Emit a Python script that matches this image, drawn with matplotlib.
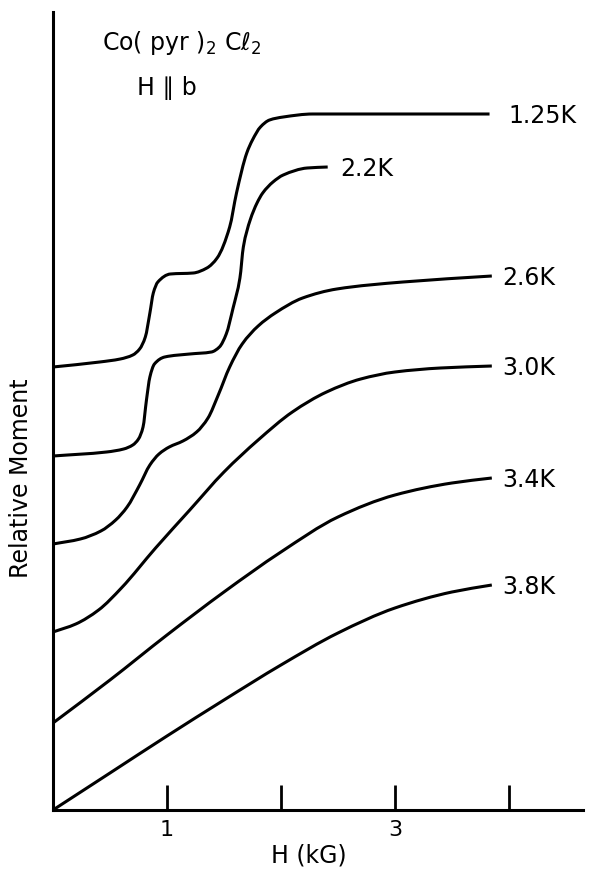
import numpy as np
import matplotlib
matplotlib.use("Agg")
from matplotlib import pyplot as plt
from matplotlib.path import Path
from matplotlib.patches import PathPatch

# field H in kG, relative moment in arbitrary (offset) units
temps = ["1.25K", "2.2K", "2.6K", "3.0K", "3.4K", "3.8K"]

h_125 = [0, 0.41, 0.59, 0.70, 0.76, 0.81, 0.85, 0.88, 0.92, 1.03, 1.23, 1.35, 1.44, 1.55, 1.61, 1.70,
         1.75, 1.82, 1.90, 2.02, 2.28, 3.83]
m_125 = [4.43, 4.48, 4.51, 4.55, 4.61, 4.73, 4.97, 5.17, 5.28, 5.36, 5.37, 5.42, 5.52, 5.83, 6.17, 6.57,
         6.70, 6.83, 6.90, 6.93, 6.96, 6.96]

h_22 = [0, 0.47, 0.62, 0.70, 0.75, 0.79, 0.82, 0.85, 0.89, 0.98, 1.20, 1.39, 1.46, 1.52, 1.58, 1.64,
        1.67, 1.73, 1.79, 1.84, 1.93, 2.02, 2.23, 2.41]
m_22 = [3.54, 3.58, 3.61, 3.65, 3.71, 3.83, 4.10, 4.33, 4.46, 4.53, 4.56, 4.58, 4.63, 4.76, 5.02, 5.32,
        5.63, 5.90, 6.07, 6.17, 6.28, 6.35, 6.42, 6.43]

h_26 = [0, 0.24, 0.42, 0.55, 0.65, 0.76, 0.85, 0.93, 1.02, 1.14, 1.26, 1.36, 1.45, 1.55, 1.66, 1.80,
        1.95, 2.19, 2.49, 3.07, 3.85]
m_26 = [2.66, 2.71, 2.79, 2.90, 3.03, 3.25, 3.45, 3.56, 3.63, 3.69, 3.78, 3.92, 4.15, 4.43, 4.66, 4.84,
        4.97, 5.12, 5.21, 5.28, 5.34]

h_30 = [0, 0.2, 0.4, 0.6, 0.9, 1.2, 1.5, 1.8, 2.1, 2.4, 2.7, 3.0, 3.4, 3.85]
m_30 = [1.78, 1.86, 2.00, 2.22, 2.62, 3.00, 3.38, 3.70, 3.98, 4.18, 4.31, 4.38, 4.42, 4.44]

h_34 = [0, 0.5, 1.0, 1.5, 2.0, 2.5, 3.0, 3.5, 3.85]
m_34 = [0.87, 1.30, 1.75, 2.18, 2.58, 2.93, 3.15, 3.27, 3.32]

h_38 = [0, 0.5, 1.0, 1.5, 2.0, 2.5, 3.0, 3.5, 3.85]
m_38 = [0.00, 0.37, 0.74, 1.10, 1.45, 1.77, 2.02, 2.18, 2.25]

curves = [(h_125, m_125), (h_22, m_22), (h_26, m_26), (h_30, m_30), (h_34, m_34), (h_38, m_38)]
label_gap = [19, 13, 10, 10, 10, 10]  # px between curve end and its label

xticks = [1, 2, 3, 4]
xticklabels = ["1", "", "3", ""]


def pchip_path(x, y):
    # monotone cubic through the points, written as bezier segments
    x = np.asarray(x, float)
    y = np.asarray(y, float)
    h = np.diff(x)
    d = np.diff(y) / h
    m = np.zeros_like(y)
    m[0], m[-1] = d[0], d[-1]
    for k in range(1, len(x) - 1):
        if d[k - 1] * d[k] <= 0:
            m[k] = 0.0
        else:
            w1 = 2 * h[k] + h[k - 1]
            w2 = h[k] + 2 * h[k - 1]
            m[k] = (w1 + w2) / (w1 / d[k - 1] + w2 / d[k])
    verts = [(x[0], y[0])]
    codes = [Path.MOVETO]
    for i in range(len(h)):
        verts += [(x[i] + h[i] / 3, y[i] + m[i] * h[i] / 3),
                  (x[i + 1] - h[i] / 3, y[i + 1] - m[i + 1] * h[i] / 3),
                  (x[i + 1], y[i + 1])]
        codes += [Path.CURVE4] * 3
    return Path(verts, codes)


plt.rcParams["font.family"] = ["DejaVu Sans"]

fig = plt.figure(figsize=(5.92, 8.69), dpi=100)
ax = fig.add_axes([53 / 592, 59 / 869, 530 / 592, 798 / 869])

for (hx, my), name, gap in zip(curves, temps, label_gap):
    ax.add_patch(PathPatch(pchip_path(hx, my), fill=False, lw=2.2, color="black",
                           capstyle="butt", joinstyle="round"))
    ax.annotate(name, xy=(hx[-1], my[-1]), xytext=(gap, -9), textcoords="offset pixels",
                ha="left", va="baseline", fontsize=17)

ax.set_xlim(0, 4.65)
ax.set_ylim(0, 7.98)

for side in ("top", "right"):
    ax.spines[side].set_visible(False)
for side in ("left", "bottom"):
    ax.spines[side].set_linewidth(2.2)

ax.set_xticks(xticks)
ax.set_xticklabels(xticklabels)
ax.set_yticks([])
ax.tick_params(axis="x", direction="in", length=18, width=2.0, pad=7, labelsize=16)

ax.set_xlabel("H (kG)", fontsize=17)
ax.xaxis.set_label_coords(256 / 530, -34 / 798)
ax.set_ylabel("Relative Moment", fontsize=17)
ax.yaxis.set_label_coords(-20 / 530, 332 / 798)

ax.text(0.43, 7.60, "Co( pyr )$_2$ Cℓ$_2$", fontsize=17, ha="left", va="baseline")
ax.text(0.74, 7.15, "H ∥ b", fontsize=17, ha="left", va="baseline")

fig.savefig("out.png", dpi=100)
